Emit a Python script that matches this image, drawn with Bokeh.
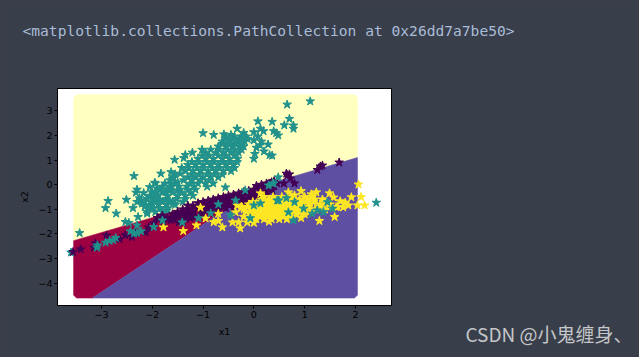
from bokeh.plotting import figure
from bokeh.models import Label, Range1d, FixedTicker
from bokeh.embed import file_html
from bokeh.resources import INLINE

page_bg = "#383e4a"
code_text = "<matplotlib.collections.PathCollection at 0x26dd7a7be50>"
watermark = "CSDN @小鬼缠身、"
x_ticks = [-3, -2, -1, 0, 1, 2]
y_ticks = [-4, -3, -2, -1, 0, 1, 2, 3]

# decision regions
region_yellow_x = [-3.55, -3.55, -3.49, 1.98, 2.04, 2.04]
region_yellow_y = [-2.27, 3.53, 3.65, 3.65, 3.53, 1.10]
region_red_x = [-3.55, -3.55, -3.49, -3.18, 0.14]
region_red_y = [-2.27, -4.48, -4.60, -4.60, -0.05]
region_blue_x = [-3.18, 1.98, 2.04, 2.04, 0.14]
region_blue_y = [-4.60, -4.60, -4.48, 1.10, -0.05]

teal_x = [0.655, 1.11, 0.08, 0.36, 0.70, 0.60, 0.78, 0.78, 0.39, 0.44, 0.48, 0.28, 0.31, -0.79, -0.59, -0.33, -0.45, -0.2, 0.0, 0.13, 0.19,
          0.0, 0.08, 0.15, 0.05, 0.12, 0.2, 0.02, 0.0,
          -1.0, -1.56, -1.35, -1.38, -1.21, -1.02, -1.83, -2.36, -1.95, -1.63, -2.32, -2.17,
          -2.87, -2.92, -2.71, -3.43, -2.51, -2.23, -2.3, -2.38, -2.2, -2.28, -2.53, -2.46,
          -1.94, -2.0, -1.94, -2.0, -1.89, -1.84, -1.74, -1.64, -1.58, -1.67, -1.51, -1.71, -1.58, -3.6,
          -0.55, -0.38, -0.25, -0.15, -0.62, -0.48, -0.3, -0.18, -0.7, -0.55, -0.42, -0.28, -0.2,
          -0.95, -0.75, -0.6, -0.45, -0.3, -1.1, -0.95, -0.8, -0.62, -0.48, -0.32,
          -1.3, -1.15, -1.0, -0.85, -0.7, -0.55, -0.4,
          -1.35, -1.2, -1.05, -0.9, -0.75, -0.6, -0.45,
          -1.3, -1.15, -1.0, -0.85, -0.7,
          -1.75, -1.55, -1.25, -1.1, -0.95, -0.8,
          -1.85, -1.65, -1.45, -1.3, -1.15,
          -2.05, -1.9, -1.7, -1.5, -1.35, -1.2,
          -2.15, -1.95, -1.8, -1.6, -1.4,
          -2.0, -1.85, -1.7,
          -0.55, -0.42, -0.28, -0.12, -0.62, -0.5, -0.36, -0.24, -0.85, -0.68, -0.52, -0.38, -0.24,
          -1.02, -0.88, -0.7, -0.55, -0.38, -1.22, -1.08, -0.92, -0.78, -0.62, -0.47, -0.33,
          -1.42, -1.28, -1.12, -0.98, -0.82, -0.68, -0.52, -0.38, -1.55, -1.22, -1.08, -0.92, -0.78, -0.62,
          -1.65, -1.38, -1.22, -1.05, -0.88, -1.8, -1.62, -1.48, -1.32, -1.18, -0.92,
          -1.95, -1.8, -1.6, -1.42, -1.25, -2.1, -1.95, -1.72, -1.52, -1.35,
          -2.05, -1.88, -1.72, -1.55, -2.1, -1.8,
          -2.25, -2.15, -2.3, -2.05, -1.9, -2.0, -1.85, -1.7, -1.5, -1.45, -1.6]
teal_y = [3.25, 3.38, 2.57, 2.55, 2.67, 2.41, 2.40, 2.27, 2.17, 2.09, 2.0, 1.63, 1.2, 2.02, 2.04, 2.27, 2.02, 2.1, 2.13, 2.27, 2.17,
          1.8, 1.95, 1.75, 1.5, 1.6, 1.35, 1.25, 1.05,
          2.09, 1.01, 1.21, 1.08, 1.3, 1.42, 0.45, 0.35, 0.08, 0.51, -0.32, -0.34,
          -0.66, -0.95, -1.17, -1.96, -0.61, -0.64, -0.7, -0.95, -0.77, -1.31, -1.51, -1.55,
          -1.11, -0.3, 0.05, -0.5, -0.43, -0.64, -0.3, 0.04, 0.31, -0.64, -0.23, -1.04, -0.77, -2.75,
          1.95, 1.95, 1.95, 1.95, 1.75, 1.75, 1.75, 1.75, 1.55, 1.55, 1.55, 1.55, 1.55,
          1.3, 1.3, 1.3, 1.3, 1.3, 1.05, 1.05, 1.05, 1.05, 1.05, 1.05,
          0.8, 0.8, 0.8, 0.8, 0.8, 0.8, 0.8,
          0.55, 0.55, 0.55, 0.55, 0.55, 0.55, 0.55,
          0.3, 0.3, 0.3, 0.3, 0.3,
          0.05, 0.05, 0.05, 0.05, 0.05, 0.05,
          -0.2, -0.2, -0.2, -0.2, -0.2,
          -0.45, -0.45, -0.45, -0.45, -0.45, -0.45,
          -0.7, -0.7, -0.7, -0.7, -0.7,
          -0.95, -0.95, -0.95,
          1.85, 1.85, 1.85, 1.85, 1.65, 1.65, 1.65, 1.65, 1.42, 1.42, 1.42, 1.42, 1.42,
          1.18, 1.18, 1.18, 1.18, 1.18, 0.92, 0.92, 0.92, 0.92, 0.92, 0.92, 0.92,
          0.68, 0.68, 0.68, 0.68, 0.68, 0.68, 0.68, 0.68, 0.42, 0.42, 0.42, 0.42, 0.42, 0.42,
          0.18, 0.18, 0.18, 0.18, 0.18, -0.08, -0.08, -0.08, -0.08, -0.08, -0.08,
          -0.32, -0.32, -0.32, -0.32, -0.32, -0.58, -0.58, -0.58, -0.58, -0.58,
          -0.82, -0.82, -0.82, -0.82, -1.1, -1.1,
          -0.55, -0.9, -0.2, -0.1, -0.15, -0.75, -0.95, -0.2, 0.1, 0.45, 0.25]

# teal stars that lie on top of the others
teal_top_x = [-3.08, -3.09, -2.92, -2.84, -2.77, -2.72, -2.43, -2.36, -2.3, -2.22, -2.3, -1.97, -1.8, -2.1, -2.04,
              -0.56, -0.17, -0.7, -0.85, -1.09, -1.41, -0.46, -0.36, 0.0, 0.13, -0.07, 0.37, 0.48, 0.46, 0.29,
              2.41, 0.49, 0.64, 0.8, 0.68, 0.98, 1.25, 1.37, 1.55, 1.45, 0.78, 1.15, 0.39, 0.36]
teal_top_y = [-2.46, -2.55, -2.35, -2.28, -2.25, -2.16, -1.89, -1.98, -1.96, -1.89, -1.65, -1.72, -1.45, -1.17, -0.97,
              -0.11, -0.23, -0.8, -1.16, -1.36, -1.53, -1.24, -0.64, -0.84, -0.76, -1.36, 0.05, 0.3, -0.64, -0.03,
              -0.73, -0.64, -0.55, -0.71, -1.12, -0.97, -1.04, -1.11, -0.97, -0.71, -1.45, -1.17, 0.05, 1.18]

dark_x = [-3.41, -3.56, -3.15, -3.12, -2.9, -2.64, -2.53, -2.4, -2.33, -2.13, -2.07, -1.97, -1.88, -1.78, -1.64, -1.54, -1.48,
          -1.6, -1.5, -1.4, -1.3, -1.2, -1.1, -1.0, -0.9, -0.8, -0.7, -0.6, -0.5, -0.4, -0.3, -0.2, -0.1, 0.0, 0.1, 0.1, 0.2, 0.25, 0.3, 0.4, -1.25, -1.4, -0.95, -0.55,
          0.66, 0.72, 0.59, 0.46, 0.8, 0.36, 1.31, 1.25, 1.35, 1.68, 0.64, 0.7,
          -1.9, -1.8, -1.7, -1.6, -1.5, -1.4, -1.3, -1.3, -1.2, -1.15, -1.1, -1.05, -1.0, -0.9, -0.9, -0.8, -0.75, -0.7, -0.65, -0.6,
          -0.5, -0.5, -0.4, -0.35, -0.3, -0.25, -0.2, -0.1, -0.1, 0.0, 0.0, 0.05, 0.15, 0.25, 0.35, 0.4,
          -1.2, -1.0, -0.85, -0.7, -0.55, -0.4, -0.25, -0.15, -0.05, -1.35, -0.6, -0.45, -0.2, -0.85, -1.05, 0.1, 0.2]
dark_y = [-2.62, -2.73, -2.55, -2.38, -2.06, -2.21, -2.05, -2.12, -1.98, -1.93, -1.73, -1.57, -1.37, -1.53, -1.45, -1.24, -1.53,
          -1.4, -1.3, -1.2, -1.0, -1.1, -0.9, -1.1, -0.8, -1.0, -0.7, -0.9, -0.65, -0.8, -0.5, -0.65, -0.45, -0.55, -0.2, -0.35, -0.1, -0.3, 0.05, -0.05, -1.35, -1.5, -0.9, -0.55,
          0.38, 0.25, 0.05, 0.05, 0.05, -0.23, 0.74, 0.6, 0.78, 0.9, 0.45, 0.42,
          -1.35, -1.25, -1.35, -1.2, -1.1, -1.0, -0.85, -1.2, -0.85, -1.3, -0.75, -1.1, -0.7, -0.65, -1.0, -0.6, -0.85, -0.55, -0.8, -0.5,
          -0.45, -0.8, -0.4, -0.65, -0.35, -0.6, -0.3, -0.25, -0.6, -0.2, -0.4, -0.05, 0.0, 0.05, 0.1, 0.15,
          -1.25, -1.25, -1.1, -1.0, -0.95, -0.95, -0.8, -0.75, -0.7, -1.4, -0.65, -0.55, -0.45, -0.8, -0.95, -0.45, -0.4]

gold_x = [2.06, 2.11, 2.04, 2.18, 1.29, 1.59, 0.93, 0.93, 0.68, 0.8, 1.13, 1.23, 1.49, 1.57, 1.92, 1.7, 1.8, 1.86, 1.76, 1.62,
          -1.05, -0.7, -0.95, -1.13, -1.39, -0.7, -0.79, -0.62, -0.42, -0.3, -0.27, -0.13, 0.13, -0.23, -0.36, -0.33, -1.78,
          0.15, 0.3, 0.45, 0.62, 0.9, 1.05, 1.2, 1.35,
          -0.1, 0.05, 0.2, 0.35, 0.5, 0.65, 0.8, 0.95, 1.1, 1.3, 1.5,
          -0.2, -0.05, 0.1, 0.25, 0.4, 0.55, 0.7, 0.85, 1.0, 1.2, 1.4,
          -0.05, 0.1, 0.25, 0.4, 0.55, 0.7, 0.85, 1.0,
          -0.1, 0.05, 0.2, 0.35, 0.5, 0.65, 0.0, 0.3,
          0.2, 0.38, 0.55, 0.75, 1.0, 1.15,
          -0.02, 0.12, 0.28, 0.42, 0.58, 0.72, 0.88, 1.02, 1.18, 1.4,
          -0.25, -0.12, 0.02, 0.18, 0.32, 0.48, 0.62, 0.78, 0.92, 1.08, 1.3, 1.5, 1.65,
          -0.15, 0.02, 0.18, 0.32, 0.48, 0.62, 0.78, 0.92, 1.1,
          -0.2, -0.02, 0.12, 0.28, 0.42, 0.58, 0.75,
          0.05, 0.25, 0.45, 0.6, 0.75, 0.9, 0.0, 0.15, 0.35, 0.5, 0.65, 0.8,
          0.08, 0.25, 0.42, 0.56, 0.7, 0.85, 0.05, 0.2, 0.35, 0.5, 0.65,
          -0.05, 0.15, 0.38, 0.55, 0.7, 0.85]
gold_y = [0.01, -0.5, -0.84, -0.84, -1.47, -1.31, -1.35, -0.26, -0.31, -0.43, -0.39, -0.31, -0.35, -0.52, -0.51, -0.67, -0.73, -0.84, -0.92, -0.91,
          -0.93, -1.18, -1.37, -1.65, -1.88, -1.47, -1.52, -1.73, -1.53, -1.53, -1.77, -1.53, -0.35, -0.92, -1.12, -0.84, -1.73,
          -0.6, -0.6, -0.6, -0.6, -0.6, -0.6, -0.6, -0.6,
          -0.8, -0.8, -0.8, -0.8, -0.8, -0.8, -0.8, -0.8, -0.8, -0.8, -0.8,
          -1.0, -1.0, -1.0, -1.0, -1.0, -1.0, -1.0, -1.0, -1.0, -1.0, -1.0,
          -1.2, -1.2, -1.2, -1.2, -1.2, -1.2, -1.2, -1.2,
          -1.4, -1.4, -1.4, -1.4, -1.4, -1.4, -1.55, -1.5,
          -0.5, -0.5, -0.5, -0.5, -0.5, -0.5,
          -0.7, -0.7, -0.7, -0.7, -0.7, -0.7, -0.7, -0.7, -0.7, -0.7,
          -0.9, -0.9, -0.9, -0.9, -0.9, -0.9, -0.9, -0.9, -0.9, -0.9, -0.9, -0.9, -0.9,
          -1.1, -1.1, -1.1, -1.1, -1.1, -1.1, -1.1, -1.1, -1.1,
          -1.3, -1.3, -1.3, -1.3, -1.3, -1.3, -1.3,
          -0.75, -0.75, -0.75, -0.75, -0.75, -0.75, -1.05, -1.05, -1.05, -1.05, -1.05, -1.05,
          -0.95, -0.95, -0.95, -0.95, -0.95, -0.95, -1.25, -1.25, -1.25, -1.25, -1.25,
          -0.85, -0.85, -0.85, -0.85, -0.85, -0.85]

p = figure(width=631, height=349, output_backend="svg", toolbar_location=None,
           x_range=Range1d(-3.866, 2.71), y_range=Range1d(-4.9, 3.9),
           min_border_left=57, min_border_right=240, min_border_top=88, min_border_bottom=44,
           x_axis_label="x1", y_axis_label="x2")
p.frame_width = 334
p.frame_height = 217
p.background_fill_color = "white"
p.border_fill_color = page_bg
p.outline_line_color = "black"
p.outline_line_width = 1
p.grid.visible = False

p.patch(region_yellow_x, region_yellow_y, color="#ffffbf", line_width=0.5)
p.patch(region_red_x, region_red_y, color="#9e0142", line_width=0.5)
p.patch(region_blue_x, region_blue_y, color="#5e4fa2", line_width=0.5)

p.scatter(teal_x, teal_y, marker="star", size=9, color="#21918c", line_width=1)
p.scatter(dark_x, dark_y, marker="star", size=9, color="#440154", line_width=1)
p.scatter(gold_x, gold_y, marker="star", size=9, color="#fde725", line_width=1)
p.scatter(teal_top_x, teal_top_y, marker="star", size=9, color="#21918c", line_width=1)

for ax in (p.xaxis[0], p.yaxis[0]):
    ax.axis_line_color = "black"
    ax.major_tick_line_color = "black"
    ax.minor_tick_line_color = None
    ax.major_tick_in = 0
    ax.major_tick_out = 3
    ax.major_label_text_color = "black"
    ax.major_label_text_font = "DejaVu Sans"
    ax.major_label_text_font_size = "9.5px"
    ax.major_label_standoff = 2
    ax.axis_label_text_color = "black"
    ax.axis_label_text_font = "DejaVu Sans"
    ax.axis_label_text_font_size = "9.5px"
    ax.axis_label_text_font_style = "normal"
    ax.axis_label_standoff = 5
p.xaxis[0].ticker = FixedTicker(ticks=x_ticks)
p.yaxis[0].ticker = FixedTicker(ticks=y_ticks)

p.add_layout(Label(x=-35, y=50, x_units="screen", y_units="screen", text=code_text,
                   text_font="DejaVu Sans Mono", text_font_size="14.6px", text_color="#a9bcd8"), "above")
p.add_layout(Label(x=408, y=20, x_units="screen", y_units="screen", text=watermark,
                   text_font="Noto Sans CJK SC", text_font_size="19px", text_color="#c4c6c9"), "below")

html = file_html(p, INLINE)
html = html.replace("<head>", "<head><style>html,body{background:%s;}</style>" % page_bg, 1)
open("out.html", "w").write(html)
